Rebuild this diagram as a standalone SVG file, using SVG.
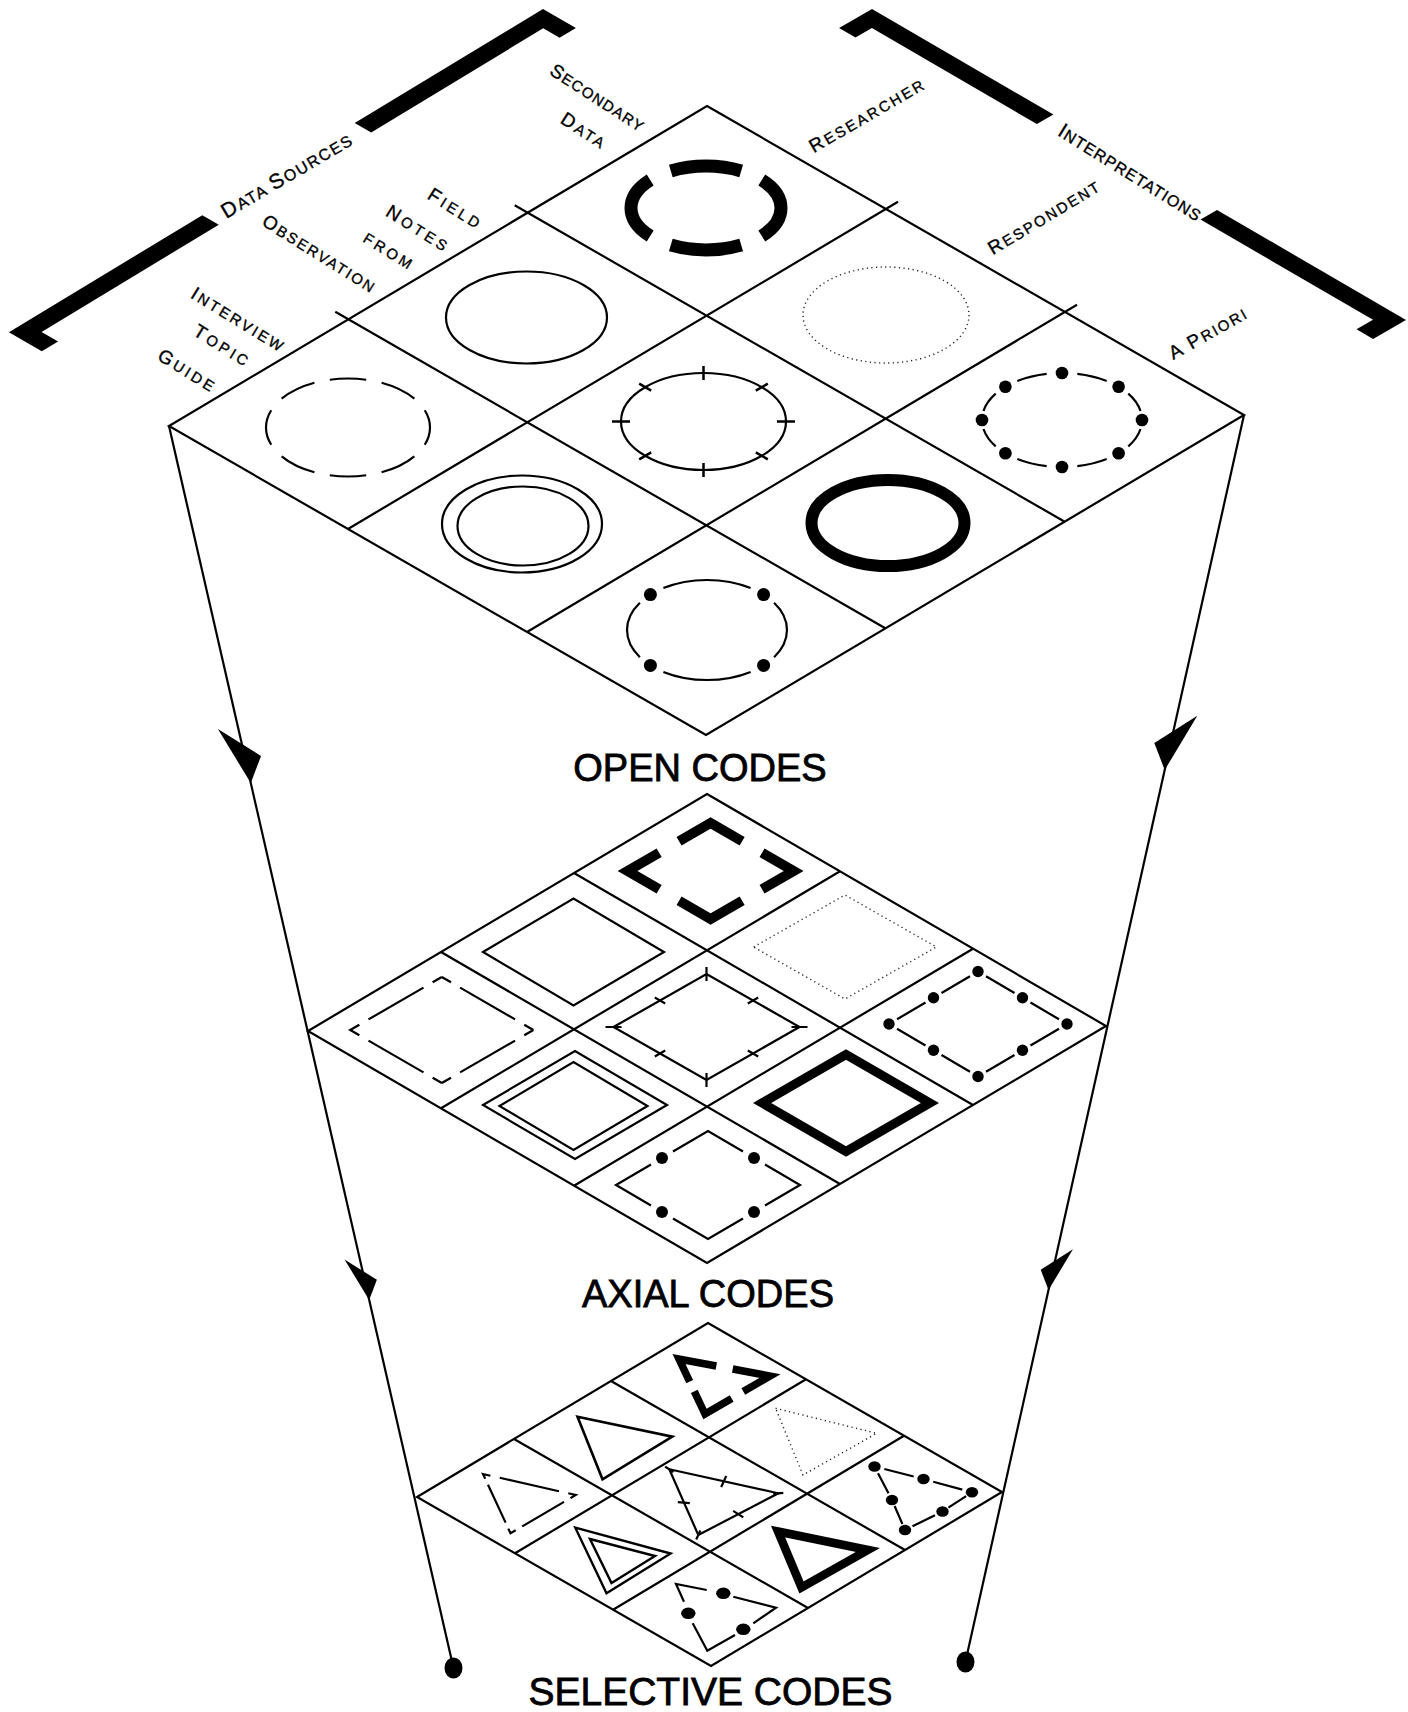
<svg xmlns="http://www.w3.org/2000/svg" xmlns:xlink="http://www.w3.org/1999/xlink" width="1408" height="1712" viewBox="0 0 1408 1712">
<style>
.s{fill:none;stroke:#000;stroke-width:2.2;stroke-linejoin:miter}
.dt{fill:none;stroke:#222;stroke-width:1.4;stroke-dasharray:1.2 3.4}
.k{fill:#000}
.t{font-family:'Liberation Sans',Arial,Helvetica,sans-serif;fill:#000;text-anchor:middle}
.lb{stroke:#000;stroke-width:0.35}
.title{font-size:38px;stroke:#000;stroke-width:0.8}
.b{font-size:19px}
.m{font-size:15px}
.bb{font-size:21px}
.bm{font-size:16px}
</style>
<defs>
<path id="arrowHead" d="M0,0 L-60,20 L-24,-16 Z"/>
</defs>
<rect width="1408" height="1712" fill="#fff"/>

<g id="bracket-data-sources">
<polygon class="k" points="543,9 575.9,28 559.6,37.8 543.2,28.3 371.2,132.5 354.7,123"/>
<polygon class="k" points="202.3,215.2 218.8,224.7 41.6,331.9 58.1,341.4 41.8,351.2 8.9,332.2"/>
<text class="t lb" transform="translate(287,175) rotate(-30.5)" x="0" y="7" letter-spacing="1.6"><tspan class="bb">D</tspan><tspan class="bm">ATA </tspan><tspan class="bb">S</tspan><tspan class="bm">OURCES</tspan></text>
</g>

<g id="bracket-interpretations">
<polygon class="k" points="872,9 839.1,28 855.5,37.6 871.9,28.1 1036.9,124.1 1053.4,114.6"/>
<polygon class="k" points="1217,210 1200.5,219.5 1373,319.8 1356.5,329.3 1373.1,338.9 1406,319.9"/>
<text class="t lb" transform="translate(1130.5,172.5) rotate(31.9)" x="0" y="7" letter-spacing="1.1"><tspan class="bb">I</tspan><tspan class="bm">NTERPRETATIONS</tspan></text>
</g>

<g id="label-secondary-data">
<text class="t lb" transform="translate(597,99) rotate(32.8)" x="0" y="5" letter-spacing="1.3"><tspan class="b">S</tspan><tspan class="m">ECONDARY</tspan></text>
<text class="t lb" transform="translate(583.5,132) rotate(32.8)" x="0" y="5" letter-spacing="2.7"><tspan class="b">D</tspan><tspan class="m">ATA</tspan></text>
</g>
<g id="label-field-notes">
<text class="t lb" transform="translate(455,210) rotate(32)" x="0" y="5" letter-spacing="3.3"><tspan class="b">F</tspan><tspan class="m">IELD</tspan></text>
<text class="t lb" transform="translate(418,230) rotate(32)" x="0" y="5" letter-spacing="3.6"><tspan class="b">N</tspan><tspan class="m">OTES</tspan></text>
<text class="t lb m" transform="translate(389,252) rotate(32)" x="0" y="5" letter-spacing="3.3">FROM</text>
<text class="t lb" transform="translate(319,255) rotate(32)" x="0" y="5" letter-spacing="2"><tspan class="b">O</tspan><tspan class="m">BSERVATION</tspan></text>
</g>
<g id="label-interview-guide">
<text class="t lb" transform="translate(238,321) rotate(31.5)" x="0" y="5" letter-spacing="2.6"><tspan class="b">I</tspan><tspan class="m">NTERVIEW</tspan></text>
<text class="t lb" transform="translate(222,347) rotate(31.5)" x="0" y="5" letter-spacing="3.2"><tspan class="b">T</tspan><tspan class="m">OPIC</tspan></text>
<text class="t lb" transform="translate(187,372) rotate(31.5)" x="0" y="5" letter-spacing="3.1"><tspan class="b">G</tspan><tspan class="m">UIDE</tspan></text>
</g>
<g id="label-researcher">
<text class="t lb" transform="translate(868,116) rotate(-30.1)" x="0" y="5" letter-spacing="2.4"><tspan class="b">R</tspan><tspan class="m">ESEARCHER</tspan></text>
</g>
<g id="label-respondent">
<text class="t lb" transform="translate(1045,218) rotate(-31)" x="0" y="5" letter-spacing="2.1"><tspan class="b">R</tspan><tspan class="m">ESPONDENT</tspan></text>
</g>
<g id="label-a-priori">
<text class="t lb" transform="translate(1209,334) rotate(-29.5)" x="0" y="5" letter-spacing="2.1"><tspan class="b">A P</tspan><tspan class="m">RIORI</tspan></text>
</g>

<g id="open-codes">
<path class="s" d="M707,106 L1244,415 L706,735 L169,426 Z M514.7,205.2 L1064.7,521.7 M335.3,311.8 L885.3,628.3 M898,201.8 L348,529 M1077,304.8 L527,632"/>
<g id="open-1-1"><path class="s" style="stroke-width:13" d="M781,208 A75,42 0 0 1 631,208 A75,42 0 0 1 781,208 Z" pathLength="100" stroke-dasharray="19 6" stroke-dashoffset="9.5"/></g>
<g id="open-1-2"><ellipse class="dt" cx="886" cy="315" rx="83" ry="48"/></g>
<g id="open-1-3" transform="translate(1062,420)">
<path class="s" d="M78.5,9 A80,47 0 0 1 66.3,26.3 M44.7,39 A80,47 0 0 1 15.3,46.1 M-15.3,46.1 A80,47 0 0 1 -44.7,39 M-66.3,26.3 A80,47 0 0 1 -78.5,9 M-78.5,-9 A80,47 0 0 1 -66.3,-26.3 M-44.7,-39 A80,47 0 0 1 -15.3,-46.1 M15.3,-46.1 A80,47 0 0 1 44.7,-39 M66.3,-26.3 A80,47 0 0 1 78.5,-9"/>
<g class="k"><circle cx="80" cy="0" r="6.3"/><circle cx="56.6" cy="33.2" r="6.3"/><circle cx="0" cy="47" r="6.3"/><circle cx="-56.6" cy="33.2" r="6.3"/><circle cx="-80" cy="0" r="6.3"/><circle cx="-56.6" cy="-33.2" r="6.3"/><circle cx="0" cy="-47" r="6.3"/><circle cx="56.6" cy="-33.2" r="6.3"/></g>
</g>
<g id="open-2-1"><ellipse class="s" cx="526.5" cy="317.5" rx="80.5" ry="46"/></g>
<g id="open-2-2">
<ellipse class="s" cx="703.5" cy="421.5" rx="82.5" ry="48.5"/>
<path class="s" style="stroke-width:2.5" d="M777,421.5 L795,421.5 M755.8,452.3 L767.8,459.3 M703.5,463 L703.5,477 M651.2,452.3 L639.2,459.3 M630,421.5 L612,421.5 M651.2,390.7 L639.2,383.7 M703.5,380 L703.5,366 M755.8,390.7 L767.8,383.7"/>
</g>
<g id="open-2-3"><ellipse class="s" style="stroke-width:12" cx="888" cy="523" rx="76.5" ry="43"/></g>
<g id="open-3-1"><path class="s" d="M430,427.5 A82,49 0 0 1 266,427.5 A82,49 0 0 1 430,427.5 Z" pathLength="100" stroke-dasharray="8.75 3.75" stroke-dashoffset="4.375"/></g>
<g id="open-3-2"><ellipse class="s" cx="522" cy="524" rx="80" ry="48.5"/><ellipse class="s" cx="523" cy="526" rx="65.5" ry="39.5"/></g>
<g id="open-3-3" transform="translate(707,630)">
<path class="s" d="M43.6,41.9 A80,50 0 0 1 -43.6,41.9 M-67.1,27.2 A80,50 0 0 1 -67.1,-27.2 M-43.6,-41.9 A80,50 0 0 1 43.6,-41.9 M67.1,-27.2 A80,50 0 0 1 67.1,27.2"/>
<g class="k"><circle cx="56.6" cy="35.4" r="6.5"/><circle cx="-56.6" cy="35.4" r="6.5"/><circle cx="-56.6" cy="-35.4" r="6.5"/><circle cx="56.6" cy="-35.4" r="6.5"/></g>
</g>
<text class="t title" x="700" y="781">OPEN CODES</text>
</g>

<g id="axial-codes">
<path class="s" d="M707,794 L1106,1026 L707,1263 L308,1031 Z M574,873 L973,1105 M441,952 L840,1184 M840,871.3 L441,1108.3 M973,948.7 L574,1185.7"/>
<g id="axial-1-1"><path class="s" style="stroke-width:10" d="M669.1,847 L710.6,823 L793.6,871 L710.6,919 L627.6,871 Z" pathLength="400" stroke-dasharray="76 24" stroke-dashoffset="88"/></g>
<g id="axial-1-2"><path class="dt" d="M753.6,947 L845,895 L936.4,947 L845,999 Z"/></g>
<g id="axial-1-3" transform="translate(978,1024)">
<path class="s" d="M-81,-4.7 L-52.5,-21.5 M-36.5,-31 L-8,-47.75 M8,-47.75 L36.5,-31 M52.5,-21.5 L81,-4.7 M81,4.7 L52.5,21.5 M36.5,31 L8,47.75 M-8,47.75 L-36.5,31 M-52.5,21.5 L-81,4.7"/>
<g class="k"><circle cx="-89" cy="0" r="5.7"/><circle cx="-44.5" cy="-26.25" r="5.7"/><circle cx="0" cy="-52.5" r="5.7"/><circle cx="44.5" cy="-26.25" r="5.7"/><circle cx="89" cy="0" r="5.7"/><circle cx="44.5" cy="26.25" r="5.7"/><circle cx="0" cy="52.5" r="5.7"/><circle cx="-44.5" cy="26.25" r="5.7"/></g>
</g>
<g id="axial-2-1"><path class="s" d="M483,952 L573.5,898.5 L664,952 L573.5,1005.5 Z"/></g>
<g id="axial-2-2" transform="translate(706.5,1027)">
<path class="s" d="M-93,0 L0,-53 L93,0 L0,53 Z"/>
<path class="s" d="M-101,0 L-85,0 M85,0 L101,0 M0,-60 L0,-46 M0,46 L0,60 M-51.7,-29.5 L-41.3,-23.5 M51.7,-29.5 L41.3,-23.5 M51.7,29.5 L41.3,23.5 M-51.7,29.5 L-41.3,23.5"/>
</g>
<g id="axial-2-3"><path class="s" style="stroke-width:9" d="M762,1103 L846,1054.5 L930,1103 L846,1151.5 Z"/></g>
<g id="axial-3-1"><path class="s" d="M350.2,1030 L441.8,977 L533.4,1030 L441.8,1083 Z" pathLength="400" stroke-dasharray="10 10 60 10 10 0"/></g>
<g id="axial-3-2"><path class="s" d="M483,1105 L575,1051 L667,1105 L575,1159 Z M499.5,1106 L573.5,1062 L647.5,1106 L573.5,1150 Z"/></g>
<g id="axial-3-3" transform="translate(708,1185)">
<path class="s" d="M-35,-33.5 L0,-54 L35,-33.5 M57,-20.5 L92,0 L57,20.5 M35,33.5 L0,54 L-35,33.5 M-57,20.5 L-92,0 L-57,-20.5"/>
<g class="k"><circle cx="46" cy="27" r="6"/><circle cx="-46" cy="27" r="6"/><circle cx="-46" cy="-27" r="6"/><circle cx="46" cy="-27" r="6"/></g>
</g>
<text class="t title" x="708" y="1307">AXIAL CODES</text>
</g>

<g id="selective-codes">
<path class="s" d="M708,1323 L1002,1492 L711,1666 L417,1497 Z M611,1381 L905,1550 M514,1439 L808,1608 M806,1379.3 L515,1553.3 M904,1435.7 L613,1609.7"/>
<g id="selective-1-1"><path class="s" style="stroke-width:7.5" d="M689.7,1381.6 L679,1359 L716.3,1366 M732.7,1369 L770,1376 L743.3,1391.6 M731.7,1398.4 L705,1414 L694.3,1391.4"/></g>
<g id="selective-1-2"><path class="dt" d="M775.6,1408.3 L876.6,1433.3 L803,1475 Z"/></g>
<g id="selective-1-3">
<path class="s" d="M884.3,1469 L913.7,1476.5 M933.2,1481.7 L962.3,1489.6 M966.1,1496.1 L948.4,1507.7 M935,1515.2 L912.5,1526.3 M902.4,1524 L894.6,1506 M888.5,1493.3 L878,1473.2"/>
<g class="k"><ellipse cx="874.5" cy="1466.5" rx="6.2" ry="5.3"/><ellipse cx="923.5" cy="1479" rx="6.2" ry="5.3"/><ellipse cx="972" cy="1492.3" rx="6.2" ry="5.3"/><ellipse cx="942.5" cy="1511.5" rx="6.2" ry="5.3"/><ellipse cx="905" cy="1530" rx="6.2" ry="5.3"/><ellipse cx="892" cy="1500" rx="6.2" ry="5.3"/></g>
</g>
<g id="selective-2-1"><path class="s" style="stroke-width:2.6" d="M577.5,1416.7 L672.3,1436.7 L602.5,1479.3 Z"/></g>
<g id="selective-2-2">
<path class="s" d="M669.3,1469.3 L778.3,1493.3 L698.3,1535 Z"/>
<path class="s" d="M665.1,1466.6 L673.5,1472 M773.3,1493.8 L783.3,1492.8 M696.2,1539.5 L700.4,1530.5 M721.2,1487 L726.2,1476 M733.2,1510.8 L743.3,1517.3 M677.8,1502.1 L689.8,1503.2"/>
</g>
<g id="selective-2-3"><path class="s" style="stroke-width:8.5" d="M778,1531.5 L868,1550 L801.5,1587.5 Z"/></g>
<g id="selective-3-1"><path class="s" d="M485.2,1478.7 L483,1474 L490.4,1475.7 M499.7,1477.8 L559,1491.2 M568.3,1493.3 L575.7,1495 L570.5,1498.1 M564,1501.9 L522.2,1526.4 M515.7,1530.2 L510.5,1533.3 L508.3,1528.6 M505.6,1522.6 L488,1484.7"/></g>
<g id="selective-3-2"><path class="s" style="stroke-width:2.4" d="M575.3,1527.7 L670.6,1553.5 L606.5,1593.3 Z M590,1539 L655,1556 L611.5,1583 Z"/></g>
<g id="selective-3-3">
<path class="s" d="M684,1601.7 L676,1584 L706.7,1590 M733.3,1596.7 L776,1607.7 L753.3,1623.3 M735,1635 L707.3,1650.7 L692.7,1623.3"/>
<g class="k"><ellipse cx="723.3" cy="1593.3" rx="7.2" ry="5.8"/><ellipse cx="743.3" cy="1629.3" rx="7.2" ry="5.8"/><ellipse cx="688.3" cy="1613.3" rx="7.2" ry="5.8"/></g>
</g>
<text class="t title" style="font-size:39px" x="710.5" y="1705">SELECTIVE CODES</text>
</g>

<g id="connectors">
<line class="s" x1="169" y1="426" x2="453.5" y2="1668"/>
<line class="s" x1="1244" y1="415" x2="965.5" y2="1661.5"/>
<use xlink:href="#arrowHead" class="k" transform="translate(250.8,783) rotate(77.1)"/>
<use xlink:href="#arrowHead" class="k" transform="translate(369.2,1300) rotate(77.1) scale(0.75)"/>
<use xlink:href="#arrowHead" class="k" transform="translate(1164.7,770) rotate(102.6) scale(1,-1)"/>
<use xlink:href="#arrowHead" class="k" transform="translate(1048.5,1290) rotate(102.6) scale(0.75,-0.75)"/>
<ellipse class="k" cx="453.5" cy="1668" rx="9" ry="10.5"/>
<ellipse class="k" cx="965.5" cy="1662" rx="9" ry="10.5"/>
</g>
</svg>
